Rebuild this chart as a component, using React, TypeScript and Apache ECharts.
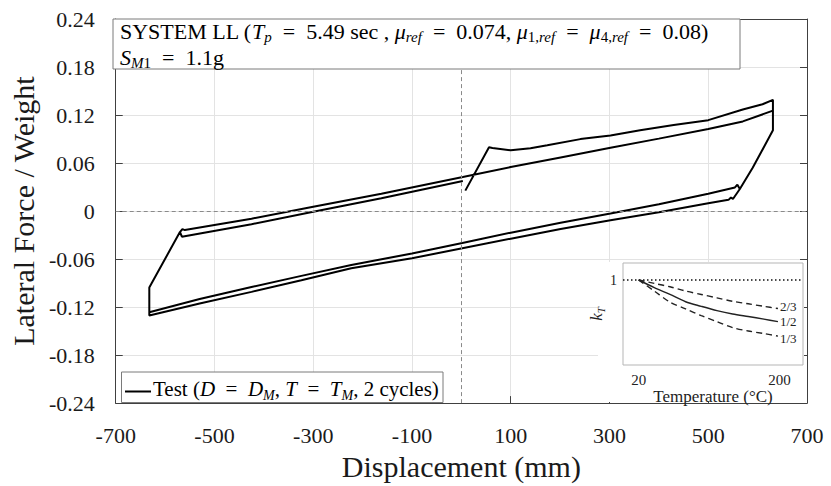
import React, { useEffect, useRef } from 'react';
import * as echarts from 'echarts';

// ---------- Main hysteresis test data (displacement mm, force / weight) ----------
const breakawayAndUpper1: [number, number][] = [
  [8, 0.0255], [56, 0.0796], [63, 0.0788], [100, 0.0759], [140, 0.0785], [174, 0.0822],
  [241, 0.0899], [302, 0.0945], [362, 0.101], [430, 0.1075], [500, 0.1136], [570, 0.127],
  [610, 0.1335], [631, 0.139],
];
const unloadRight1: [number, number][] = [
  [631, 0.101], [590, 0.054], [564, 0.0275], [559, 0.0329], [554, 0.0295],
];
const lowerBranch1: [number, number][] = [
  [500, 0.0215], [400, 0.0085], [302, -0.003], [201, -0.0145], [100, -0.027], [2, -0.04],
  [-100, -0.053], [-223, -0.0675], [-324, -0.081], [-425, -0.095], [-530, -0.11], [-632, -0.1264],
];
const reloadLeft1: [number, number][] = [
  [-632, -0.0956], [-627, -0.09], [-570, -0.0262], [-565, -0.0225], [-560, -0.0238],
];
const upperBranch2: [number, number][] = [
  [-425, -0.0095], [-300, 0.0055], [-162, 0.0215], [3, 0.0425], [100, 0.055], [201, 0.067],
  [302, 0.079], [400, 0.0905], [500, 0.1025], [570, 0.112], [631, 0.1255],
];
const unloadRight2: [number, number][] = [
  [631, 0.101], [590, 0.054], [564, 0.0275], [550, 0.0151], [546, 0.017], [541, 0.014],
];
const lowerBranch2: [number, number][] = [
  [500, 0.0098], [400, -0.0015], [302, -0.0115], [201, -0.0225], [100, -0.0345], [2, -0.0465],
  [-100, -0.059], [-223, -0.0715], [-324, -0.0865], [-425, -0.101], [-530, -0.1155], [-632, -0.1305],
];
const reloadLeft2: [number, number][] = [
  [-632, -0.0956], [-627, -0.09], [-570, -0.0262], [-566, -0.032],
];
const finalReturn: [number, number][] = [
  [-425, -0.0165], [-300, -0.001], [-162, 0.016], [3, 0.0375],
];

const testPath: [number, number][] = [
  ...breakawayAndUpper1, ...unloadRight1, ...lowerBranch1, ...reloadLeft1, ...upperBranch2,
  ...unloadRight2, ...lowerBranch2, ...reloadLeft2, ...finalReturn,
];

// ---------- Inset: k_T vs temperature ----------
const tempC = [20, 40, 60, 80, 100, 120, 140, 160, 180, 198];
const kHalf = [1.0, 0.955, 0.915, 0.872, 0.845, 0.82, 0.8, 0.785, 0.77, 0.755];
const kTwoThird = [1.0, 0.98, 0.96, 0.935, 0.915, 0.895, 0.875, 0.86, 0.845, 0.832];
const kOneThird = [1.0, 0.935, 0.87, 0.83, 0.79, 0.755, 0.72, 0.7, 0.685, 0.67];

const xTickMin = -700;
const xTickMax = 700;
const xTickStep = 200;
const yTickMin = -0.24;
const yTickMax = 0.24;
const yTickStep = 0.06;
const insetTempTicks = [20, 200];
const insetKTicks = [1];

const SERIF = 'Liberation Serif';
const INK = '#1a1a1a';
const EQ = '\u2002=\u2002';

const annotationText =
  `{n|SYSTEM LL (}{i|T}{s|p}{n|${EQ}5.49 sec , }{i|μ}{s|ref}{n|${EQ}0.074, }{i|μ}{su|1,}{s|ref}{n|${EQ}}{i|μ}{su|4,}{s|ref}{n|${EQ}0.08)}\n` +
  `{i|S}{s|M}{su|1}{n|${EQ}1.1g}`;
const legendText =
  `{n|Test (}{i|D}{n|${EQ}}{i|D}{s|M}{n|, }{i|T}{n|${EQ}}{i|T}{s|M}{n|, 2 cycles)}`;

const makeRich = (size: number, sub: number, lh: number, color = '#000') => ({
  n: { fontFamily: SERIF, fontSize: size, lineHeight: lh, color },
  i: { fontFamily: SERIF, fontSize: size, lineHeight: lh, fontStyle: 'italic', color },
  s: { fontFamily: SERIF, fontSize: sub, lineHeight: sub, fontStyle: 'italic', verticalAlign: 'bottom', color },
  su: { fontFamily: SERIF, fontSize: sub, lineHeight: sub, verticalAlign: 'bottom', color },
});
const plain = (size: number, color = INK, lh?: number) => ({
  t: { fontFamily: SERIF, fontSize: size, color, lineHeight: lh ?? Math.round(size * 1.2) },
});
const wrapT = (s: string | number) => `{t|${s}}`;

const zip = (xs: number[], ys: number[]) => xs.map((x, i) => [x, ys[i]]);

export default function App() {
  const ref = useRef<HTMLDivElement>(null);

  useEffect(() => {
    document.body.style.margin = '0';
    if (!ref.current) return;
    const chart = echarts.init(ref.current, undefined, { renderer: 'svg' });

    const frameAxisLine = { show: true, onZero: false, lineStyle: { color: '#404040', width: 1 } };
    const frameTick = { show: true, inside: true, length: 7, lineStyle: { color: '#404040', width: 1 } };

    const insetLine = (data: number[], label: string, dashed: boolean, offsetY: number, extra: any = {}) => ({
      type: 'line',
      xAxisIndex: 2,
      yAxisIndex: 2,
      data: zip(tempC, data),
      showSymbol: false,
      symbol: 'none',
      smooth: 0.3,
      z: 5,
      lineStyle: { color: '#222', width: 1.4, type: dashed ? [6, 4] : 'solid' },
      endLabel: {
        show: true, formatter: wrapT(label), rich: plain(13, '#222', 13), distance: 2, offset: [0, offsetY],
      },
      ...extra,
    });

    chart.setOption({
      animation: false,
      backgroundColor: '#fff',
      textStyle: { fontFamily: SERIF },
      grid: [
        { left: 113, top: 19, width: 694, height: 390 },
        { left: 623, top: 263, width: 180, height: 102, show: true, borderColor: '#b5b5b5', borderWidth: 1, z: 3 },
      ],
      xAxis: [
        {
          type: 'value', gridIndex: 0, position: 'bottom', min: xTickMin, max: xTickMax, interval: xTickStep,
          axisLine: frameAxisLine, axisTick: frameTick,
          axisLabel: { margin: 19, formatter: (v: number) => wrapT(v), rich: plain(22) },
          splitLine: { show: true, lineStyle: { color: '#e3e3e3', width: 1 } },
          name: wrapT('Displacement (mm)'), nameLocation: 'middle', nameGap: 42,
          nameTextStyle: { rich: plain(30) },
        },
        {
          type: 'value', gridIndex: 0, position: 'top', min: xTickMin, max: xTickMax, interval: xTickStep,
          axisLine: frameAxisLine, axisTick: frameTick, axisLabel: { show: false }, splitLine: { show: false },
        },
        {
          type: 'value', gridIndex: 1, min: 0, max: 230, z: 4,
          axisLine: { show: false }, axisTick: { show: false }, splitLine: { show: false },
          axisLabel: { customValues: insetTempTicks, margin: 6, formatter: (v: number) => wrapT(v), rich: plain(15, '#222') },
          name: wrapT('Temperature (°C)'), nameLocation: 'middle', nameGap: 21,
          nameTextStyle: { rich: plain(17, '#222') },
        },
      ],
      yAxis: [
        {
          type: 'value', gridIndex: 0, position: 'left', min: yTickMin, max: yTickMax, interval: yTickStep,
          axisLine: frameAxisLine, axisTick: frameTick,
          axisLabel: {
            margin: 21, rich: plain(22),
            formatter: (v: number) => wrapT(Math.abs(v) < 1e-9 ? '0' : v.toFixed(2)),
          },
          splitLine: { show: true, lineStyle: { color: '#e3e3e3', width: 1 } },
          name: wrapT('Lateral Force / Weight'), nameLocation: 'middle', nameGap: 70,
          nameTextStyle: { rich: plain(30) },
        },
        {
          type: 'value', gridIndex: 0, position: 'right', min: yTickMin, max: yTickMax, interval: yTickStep,
          axisLine: frameAxisLine, axisTick: frameTick, axisLabel: { show: false }, splitLine: { show: false },
        },
        {
          type: 'value', gridIndex: 1, min: 0.5, max: 1.1, z: 4,
          axisLine: { show: false }, axisTick: { show: false }, splitLine: { show: false },
          axisLabel: { customValues: insetKTicks, margin: 6, formatter: (v: number) => wrapT(v), rich: plain(14, '#222') },
          name: '{i|k}{s|T}', nameLocation: 'middle', nameGap: 12,
          nameTextStyle: { rich: makeRich(17, 11, 20, '#222') },
        },
      ],
      graphic: [
        { type: 'rect', silent: true, z: 1, shape: { x: 598, y: 262, width: 206, height: 140 }, style: { fill: '#fff' } },
        {
          type: 'rect', silent: true, z: 10, shape: { x: 113, y: 19, width: 627, height: 50 },
          style: { fill: '#fff', stroke: '#7a7a7a', lineWidth: 1 },
        },
        {
          type: 'text', silent: true, z: 11, x: 120, y: 18,
          style: { text: annotationText, rich: makeRich(22, 15, 26), fill: '#000', verticalAlign: 'top', align: 'left', fontFamily: SERIF, fontSize: 22 },
        },
        {
          type: 'rect', silent: true, z: 10, shape: { x: 121.5, y: 372, width: 321.5, height: 30.5 },
          style: { fill: '#fff', stroke: '#7a7a7a', lineWidth: 1 },
        },
        {
          type: 'line', silent: true, z: 11, shape: { x1: 125, y1: 391.5, x2: 151, y2: 391.5 },
          style: { stroke: '#000', lineWidth: 2 },
        },
        {
          type: 'text', silent: true, z: 11, x: 153, y: 389,
          style: { text: legendText, rich: makeRich(21, 14, 26), fill: '#000', verticalAlign: 'middle', align: 'left', fontFamily: SERIF, fontSize: 21 },
        },
      ],
      series: [
        {
          type: 'line', name: 'Test', xAxisIndex: 0, yAxisIndex: 0, data: testPath,
          showSymbol: false, symbol: 'none', z: 2,
          lineStyle: { color: '#000', width: 2 },
          markLine: {
            silent: true, symbol: ['none', 'none'], label: { show: false },
            lineStyle: { color: '#8a8a8a', type: [4, 3], width: 1 },
            data: [{ xAxis: 0 }, { yAxis: 0 }],
          },
        },
        insetLine(kHalf, '1/2', false, 0, {
          markLine: {
            silent: true, symbol: ['none', 'none'], label: { show: false },
            lineStyle: { color: '#111', type: [1.5, 2.5], width: 1.6 },
            data: [{ yAxis: 1 }],
          },
        }),
        insetLine(kTwoThird, '2/3', true, -2),
        insetLine(kOneThird, '1/3', true, 2),
      ],
    });

    return () => chart.dispose();
  }, []);

  return <div ref={ref} style={{ position: 'fixed', left: 0, top: 0, width: 831, height: 486 }} />;
}
